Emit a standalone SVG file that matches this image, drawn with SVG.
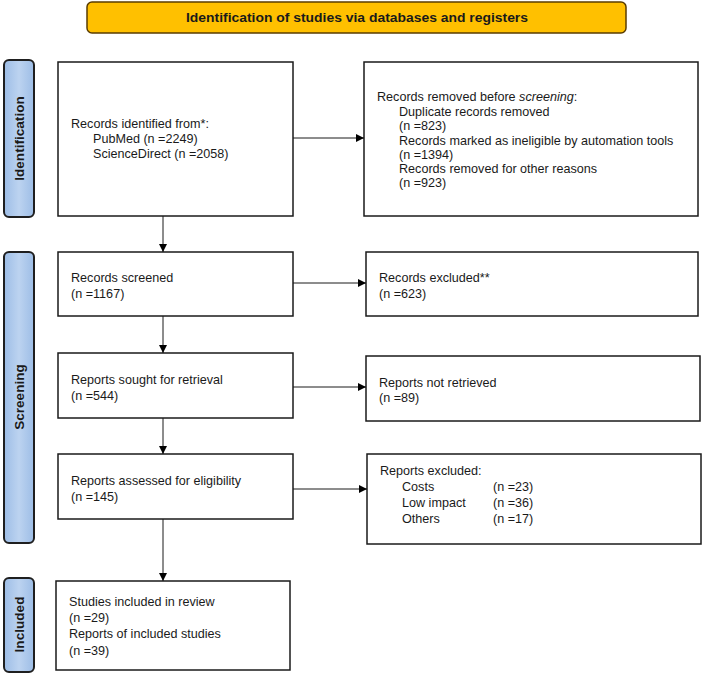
<svg xmlns="http://www.w3.org/2000/svg" width="708" height="675" viewBox="0 0 708 675">
<defs>
<marker id="ah" viewBox="0 0 10 10" refX="10" refY="5" markerWidth="8" markerHeight="8" markerUnits="userSpaceOnUse" orient="auto">
<path d="M0,0 L10,5 L0,10 z" fill="#000"/>
</marker>
<linearGradient id="tabg" x1="0" y1="0" x2="1" y2="0">
<stop offset="0" stop-color="#9dbde6"/>
<stop offset="0.5" stop-color="#bcd3f0"/>
<stop offset="1" stop-color="#9dbde6"/>
</linearGradient>
</defs>
<style>
.box{fill:#fff;stroke:#1a1a1a;stroke-width:1.5}
.tab{fill:url(#tabg);stroke:#1f1f1f;stroke-width:2}
.t{font-family:"Liberation Sans",Arial,sans-serif;font-size:12.6px;fill:#1a1a1a}
.tl{font-family:"Liberation Sans",Arial,sans-serif;font-size:13.6px;font-weight:bold;fill:#1a1a1a}
.c{stroke:#1a1a1a;stroke-width:1;fill:none;marker-end:url(#ah)}
</style>
<rect width="708" height="675" fill="#fff"/>
<g id="header">
<rect x="87" y="2" width="539" height="31" rx="5" fill="#ffc000" stroke="#5a3c00" stroke-width="1.5"/>
<text class="tl" x="357" y="22" text-anchor="middle" textLength="342" lengthAdjust="spacingAndGlyphs" font-size="14.5">Identification of studies via databases and registers</text>
</g>
<g id="tab-identification">
<rect class="tab" x="4" y="60" width="30" height="157" rx="5"/>
<text class="tl" transform="translate(24,138.5) rotate(-90)" text-anchor="middle">Identification</text>
</g>
<g id="tab-screening">
<rect class="tab" x="4" y="252" width="30" height="291" rx="5"/>
<text class="tl" transform="translate(24,397) rotate(-90)" text-anchor="middle">Screening</text>
</g>
<g id="tab-included">
<rect class="tab" x="4" y="578" width="30" height="94" rx="5"/>
<text class="tl" transform="translate(24,624.5) rotate(-90)" text-anchor="middle">Included</text>
</g>
<g id="n-identified">
<rect class="box" x="58" y="62" width="235" height="154"/>
<text class="t" x="71" y="128">Records identified from*:</text>
<text class="t" x="93" y="142.5">PubMed (n =2249)</text>
<text class="t" x="93" y="158">ScienceDirect (n =2058)</text>
</g>
<g id="n-removed">
<rect class="box" x="364" y="62" width="334" height="154"/>
<text class="t" x="377" y="101">Records removed before <tspan font-style="italic">screening</tspan>:</text>
<text class="t" x="399" y="115.5">Duplicate records removed</text>
<text class="t" x="399" y="130">(n =823)</text>
<text class="t" x="399" y="144.5">Records marked as ineligible by automation tools</text>
<text class="t" x="399" y="158.5">(n =1394)</text>
<text class="t" x="399" y="173">Records removed for other reasons</text>
<text class="t" x="399" y="187">(n =923)</text>
</g>
<g id="n-screened">
<rect class="box" x="58" y="252" width="235" height="64"/>
<text class="t" x="71" y="281.5">Records screened</text>
<text class="t" x="71" y="297.5">(n =1167)</text>
</g>
<g id="n-excluded">
<rect class="box" x="366" y="252" width="332" height="64"/>
<text class="t" x="379" y="281.5">Records excluded**</text>
<text class="t" x="379" y="297.5">(n =623)</text>
</g>
<g id="n-sought">
<rect class="box" x="58" y="353" width="235" height="65"/>
<text class="t" x="71" y="383.5">Reports sought for retrieval</text>
<text class="t" x="71" y="400">(n =544)</text>
</g>
<g id="n-notretrieved">
<rect class="box" x="366" y="356" width="334" height="65"/>
<text class="t" x="379" y="386.5">Reports not retrieved</text>
<text class="t" x="379" y="401.5">(n =89)</text>
</g>
<g id="n-assessed">
<rect class="box" x="58" y="454" width="235" height="65"/>
<text class="t" x="71" y="485">Reports assessed for eligibility</text>
<text class="t" x="71" y="501">(n =145)</text>
</g>
<g id="n-reportsexcluded">
<rect class="box" x="367" y="454" width="334" height="90"/>
<text class="t" x="380" y="475">Reports excluded:</text>
<text class="t" x="402" y="490.5">Costs</text>
<text class="t" x="493" y="490.5">(n =23)</text>
<text class="t" x="402" y="507">Low impact</text>
<text class="t" x="493" y="507">(n =36)</text>
<text class="t" x="402" y="523">Others</text>
<text class="t" x="493" y="523">(n =17)</text>
</g>
<g id="n-included">
<rect class="box" x="56" y="581" width="234" height="89"/>
<text class="t" x="69" y="606">Studies included in review</text>
<text class="t" x="69" y="622">(n =29)</text>
<text class="t" x="69" y="638">Reports of included studies</text>
<text class="t" x="69" y="655">(n =39)</text>
</g>
<g id="connectors">
<line class="c" x1="293" y1="138" x2="364" y2="138"/>
<line class="c" x1="163" y1="216" x2="163" y2="252"/>
<line class="c" x1="293" y1="283" x2="366" y2="283"/>
<line class="c" x1="163" y1="316" x2="163" y2="353"/>
<line class="c" x1="293" y1="387" x2="366" y2="387"/>
<line class="c" x1="163" y1="418" x2="163" y2="454"/>
<line class="c" x1="293" y1="489" x2="367" y2="489"/>
<line class="c" x1="163" y1="519" x2="163" y2="581"/>
</g>
</svg>
